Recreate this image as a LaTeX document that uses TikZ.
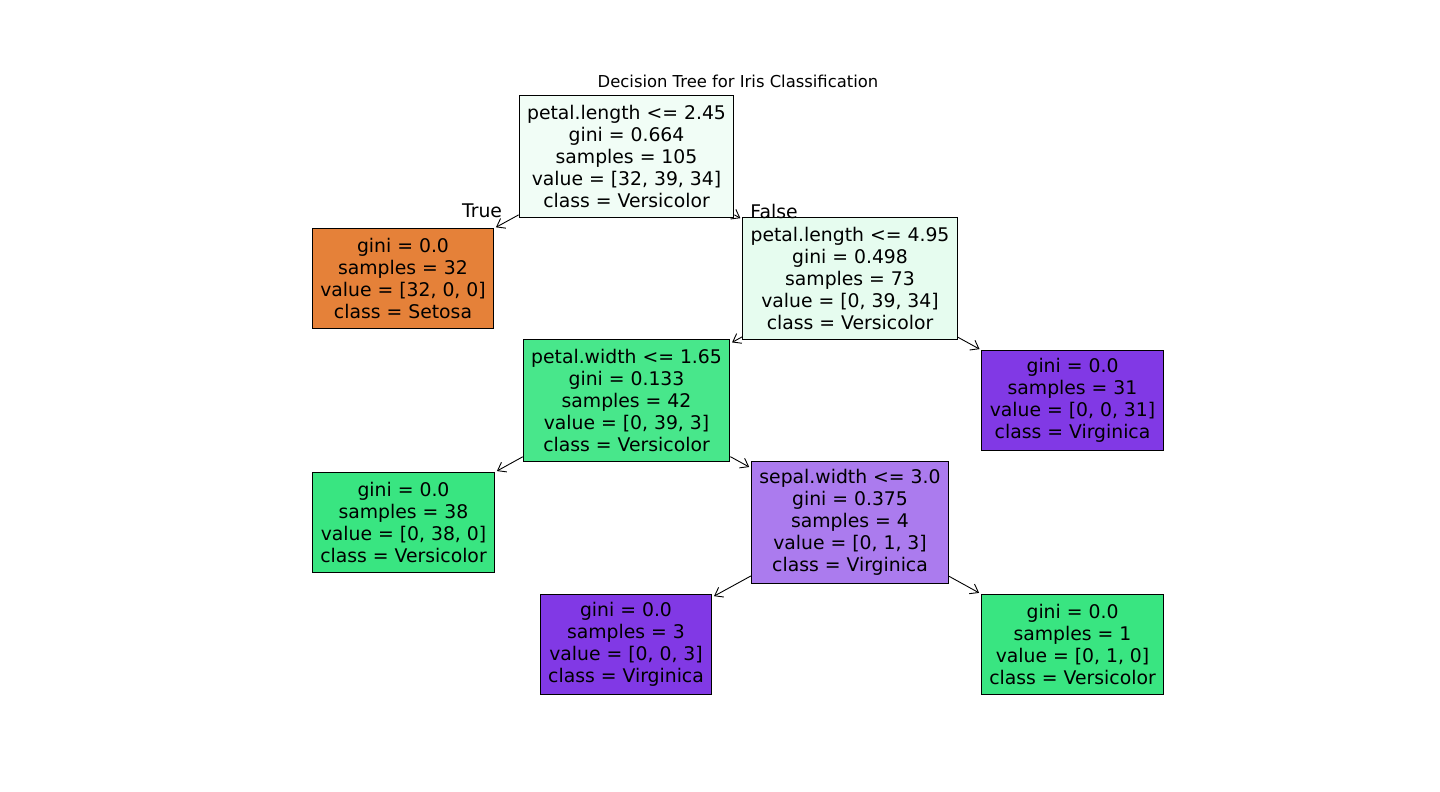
\documentclass[tikz,border=0pt]{standalone}
\usepackage{fontspec}
\setmainfont{DejaVu Sans}
\usepackage{tikz}
\usetikzlibrary{arrows.meta, positioning}
\definecolor{setosacolor}{RGB}{229, 129, 57}
\definecolor{versicolor}{RGB}{57, 229, 129}
\definecolor{virginicacolor}{RGB}{129, 57, 229}
\definecolor{rootcolor}{RGB}{241, 253, 246}
\definecolor{splitcolor}{RGB}{230, 252, 239}
\definecolor{widthcolor}{RGB}{72, 231, 139}
\definecolor{sepalcolor}{RGB}{171, 123, 238}

\begin{document}
\begin{tikzpicture}[x=1pt, y=-1pt,
    treebox/.style={draw, line width=0.9pt, align=center, inner xsep=8pt,
        font=\fontsize{18.8}{22}\selectfont},
    splitbox/.style={treebox, minimum height=122pt},
    leafbox/.style={treebox, minimum height=100pt},
    edge/.style={-{Straight Barb[length=7.5pt, width=11pt]}, line width=0.9pt, shorten >=2pt}]
        \useasboundingbox (0,0) rectangle (1440,792);

        % Title
        \node[font=\fontsize{16.4}{19}\selectfont] (title) at (738, 81) {Decision Tree for Iris Classification};

        % Split nodes
        \node[splitbox, fill=rootcolor] (root) at (626.5, 156) {petal.length <= 2.45\\gini = 0.664\\samples = 105\\value = [32, 39, 34]\\class = Versicolor};
        \node[splitbox, fill=splitcolor] (plength) at (850, 278) {petal.length <= 4.95\\gini = 0.498\\samples = 73\\value = [0, 39, 34]\\class = Versicolor};
        \node[splitbox, fill=widthcolor] (pwidth) at (626.5, 400) {petal.width <= 1.65\\gini = 0.133\\samples = 42\\value = [0, 39, 3]\\class = Versicolor};
        \node[splitbox, fill=sepalcolor] (swidth) at (850, 522) {sepal.width <= 3.0\\gini = 0.375\\samples = 4\\value = [0, 1, 3]\\class = Virginica};

        % Leaves
        \node[leafbox, fill=setosacolor] (setosa) at (403, 278) {gini = 0.0\\samples = 32\\value = [32, 0, 0]\\class = Setosa};
        \node[leafbox, fill=virginicacolor] (virg31) at (1072.5, 400) {gini = 0.0\\samples = 31\\value = [0, 0, 31]\\class = Virginica};
        \node[leafbox, fill=versicolor] (vers38) at (403.5, 522) {gini = 0.0\\samples = 38\\value = [0, 38, 0]\\class = Versicolor};
        \node[leafbox, fill=virginicacolor] (virg3) at (626, 644) {gini = 0.0\\samples = 3\\value = [0, 0, 3]\\class = Virginica};
        \node[leafbox, fill=versicolor] (vers1) at (1072.5, 644) {gini = 0.0\\samples = 1\\value = [0, 1, 0]\\class = Versicolor};

        % Branch labels
        \node[font=\fontsize{18.8}{22}\selectfont] (truelabel) at (482, 211) {True};
        \node[font=\fontsize{18.8}{22}\selectfont] (falselabel) at (774, 211) {False};

        % Connections
        \draw[edge] (root) -- (setosa);
        \draw[edge] (root) -- (plength);
        \draw[edge] (plength) -- (pwidth);
        \draw[edge] (plength) -- (virg31);
        \draw[edge] (pwidth) -- (vers38);
        \draw[edge] (pwidth) -- (swidth);
        \draw[edge] (swidth) -- (virg3);
        \draw[edge] (swidth) -- (vers1);
    \end{tikzpicture}
\end{document}
